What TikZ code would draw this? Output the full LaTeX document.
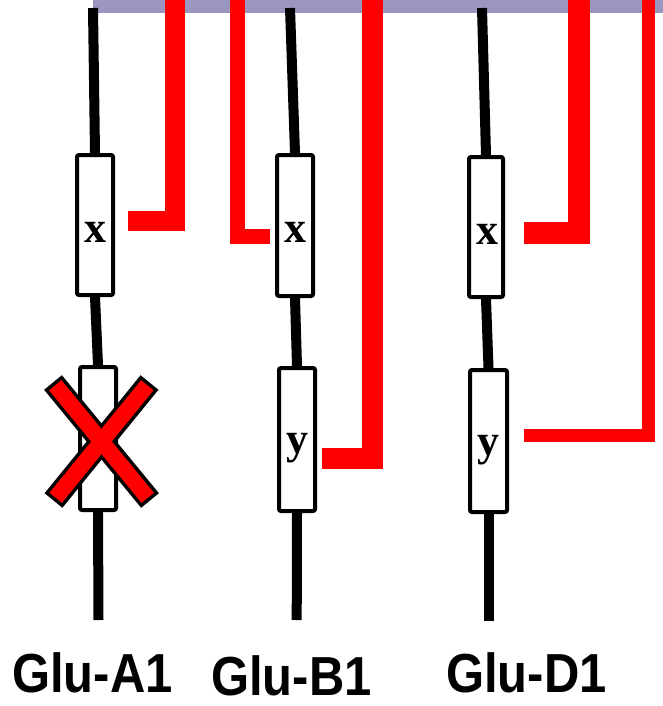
\documentclass[tikz,border=0pt]{standalone}
\usepackage{fontspec}
\setmainfont{Liberation Serif}
\newfontfamily\gluefont{Liberation Sans}
\usetikzlibrary{backgrounds}
\definecolor{barlav}{RGB}{154,150,192}
\definecolor{linkred}{RGB}{255,0,0}
\newcommand{\narrowtext}[1]{\scalebox{0.89}[1]{#1}}
\begin{document}
\begin{tikzpicture}[x=1pt,y=-1pt,
  chrom/.style={line width=10pt, draw=black, line cap=butt},
  locus/.style={draw=black, fill=white, line width=4pt, rounded corners=2pt,
    inner sep=0pt, minimum width=36pt, minimum height=140pt},
  locuslabel/.style={inner sep=0pt, anchor=base,
    font=\fontsize{44}{44}\selectfont\bfseries},
  glulabel/.style={inner sep=0pt, anchor=base,
    font=\gluefont\fontsize{55}{55}\selectfont\bfseries},
  redlink/.style={draw=linkred, line cap=butt, line join=miter},
  crossout/.style={draw=black, line width=23pt, line cap=butt},
  crossin/.style={draw=linkred, line width=16pt, line cap=butt,
    shorten <=3.5pt, shorten >=3.5pt},
]
\useasboundingbox (0,0) rectangle (663,706);

% loci on each chromosome
\node[locus, minimum width=36pt, minimum height=140pt] (A1) at (95,225) {};
\node[locus, minimum width=36pt, minimum height=143pt] (A2) at (98,438.5) {};
\node[locus, minimum width=36pt, minimum height=141pt] (B1) at (295,225.5) {};
\node[locus, minimum width=36pt, minimum height=143pt] (B2) at (297,439.5) {};
\node[locus, minimum width=34pt, minimum height=140pt] (D1) at (486,227) {};
\node[locus, minimum width=37pt, minimum height=142pt] (D2) at (488.5,441) {};

\node[locuslabel] (A1x) at (95,242) {x};
\node[locuslabel] (B1x) at (295,242) {x};
\node[locuslabel] (B2y) at (297,453) {y};
\node[locuslabel] (D1x) at (487,244) {x};
\node[locuslabel] (D2y) at (488,455) {y};

% chromosome ends and link ends
\coordinate (topA) at (93,8);
\coordinate (topB) at (290,8);
\coordinate (topD) at (482,8);
\coordinate (botA) at (98.5,620);
\coordinate (botB) at (296.7,620);
\coordinate (botD) at (488.5,621);

\coordinate (rA0) at (175,-2);   \coordinate (rA1) at (128,221);
\coordinate (rB0) at (237.5,-2); \coordinate (rB1) at (270,236.5);
\coordinate (rC0) at (372.5,-2); \coordinate (rC1) at (322,458.5);
\coordinate (rD0) at (579,-2);   \coordinate (rD1) at (524,233);
\coordinate (rE0) at (648.5,-2); \coordinate (rE1) at (524,435);

\begin{scope}[on background layer]
  % top band
  \fill[barlav] (93,0) rectangle (663,13);
  % chromosomes
  \draw[chrom] (topA) -- (A1.north);
  \draw[chrom] (A1.south) -- (A2.north);
  \draw[chrom] (A2.south) -- (botA);
  \draw[chrom] (topB) -- (B1.north);
  \draw[chrom] (B1.south) -- (B2.north);
  \draw[chrom] (B2.south) -- (botB);
  \draw[chrom] (topD) -- (D1.north);
  \draw[chrom] (D1.south) -- (D2.north);
  \draw[chrom] (D2.south) -- (botD);
  % red links
  \draw[redlink, line width=20pt] (rA0) |- (rA1);
  \draw[redlink, line width=15pt] (rB0) |- (rB1);
  \draw[redlink, line width=21pt] (rC0) |- (rC1);
  \draw[redlink, line width=22pt] (rD0) |- (rD1);
  \draw[redlink, line width=13pt] (rE0) |- (rE1);
\end{scope}

% cross over the lost locus
\coordinate (xa0) at (53,382.5);  \coordinate (xa1) at (150,500.5);
\coordinate (xb0) at (149.5,382.5); \coordinate (xb1) at (53.5,500.5);
\draw[crossout] (xa0) -- (xa1);
\draw[crossout] (xb0) -- (xb1);
\draw[crossin] (xa0) -- (xa1);
\draw[crossin] (xb0) -- (xb1);

% genome labels
\node[glulabel] (gA) at (92.5,692.5) {\narrowtext{Glu-A1}};
\node[glulabel] (gB) at (291.5,695) {\narrowtext{Glu-B1}};
\node[glulabel] (gD) at (526.5,692.5) {\narrowtext{Glu-D1}};
\end{tikzpicture}
\end{document}
